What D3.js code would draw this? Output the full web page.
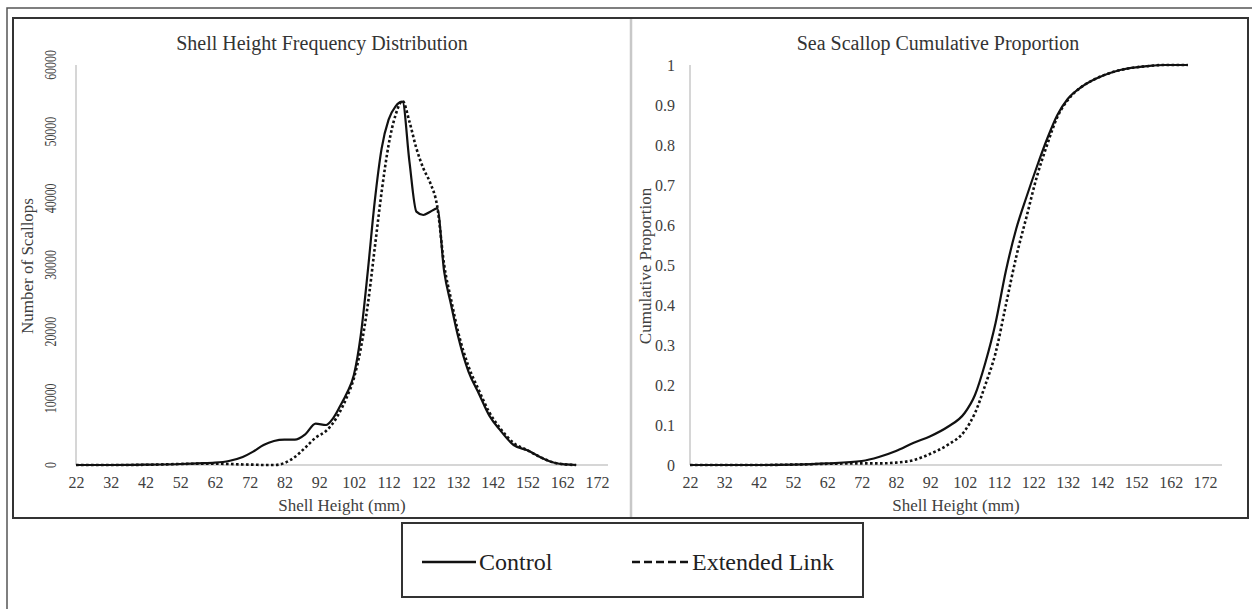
<!DOCTYPE html>
<html>
<head>
<meta charset="utf-8">
<script src="https://cdn.jsdelivr.net/npm/d3@7"></script>
<style>
  body { margin: 0; background: #fff; }
  svg { display: block; }
  svg text { font-family: "Liberation Serif", "Times New Roman", serif; }
</style>
</head>
<body>
<div id="chart"></div>
<script>
'use strict';

let serif = "Liberation Serif, Times New Roman, serif";

// shell height bins (mm) used for the frequency curves
let freqSizes = [22, 32, 42, 52, 57, 62, 66, 70, 73, 76, 79, 82, 85, 88, 91, 94, 96, 98, 100, 102,
    104, 106, 108, 110, 112, 114, 116, 118, 120, 122, 124, 126, 128, 130, 132, 135, 138, 141, 144,
    148, 152, 156, 160, 163, 166];
let freqControl = [0, 0, 50, 150, 250, 350, 600, 1200, 2000, 3000, 3600, 3800, 3800, 4600, 6200, 6000,
    7000, 8800, 10800, 13500, 19500, 29000, 39500, 47500, 51800, 53800, 54500, 45500, 38000, 37500,
    38000, 38500, 29000, 24000, 19300, 14000, 10700, 7400, 5300, 3000, 2200, 1100, 300, 80, 0];
let freqExtended = [0, 0, 30, 150, 200, 200, 150, 80, 50, 0, 0, 300, 1200, 2600, 4100, 5100,
    6300, 8000, 10200, 13000, 17500, 24000, 32500, 41000, 48000, 52500, 54600, 51500, 47500, 44500,
    42300, 38800, 30000, 24800, 20000, 14800, 11200, 7900, 5600, 3300, 2200, 1100, 300, 80, 0];

// cumulative proportion curves
let cumSizes = [22, 32, 42, 52, 62, 72, 77, 82, 87, 92, 97, 102, 105, 108, 111, 114, 117, 120, 123,
    126, 129, 132, 136, 140, 145, 150, 155, 160, 167];
let cumControl = [0, 0, 0, 0.001, 0.004, 0.01, 0.02, 0.035, 0.055, 0.072, 0.095, 0.13, 0.175, 0.255,
    0.355, 0.485, 0.59, 0.67, 0.745, 0.815, 0.875, 0.915, 0.945, 0.965, 0.982, 0.992, 0.997, 1, 1];
let cumExtended = [0, 0, 0, 0.001, 0.003, 0.004, 0.004, 0.006, 0.012, 0.028, 0.05, 0.085, 0.13, 0.2,
    0.28, 0.4, 0.52, 0.62, 0.72, 0.8, 0.87, 0.912, 0.945, 0.965, 0.982, 0.992, 0.997, 1, 1];

let xTicks = d3.range(22, 173, 10);
let freqTicks = d3.range(0, 60001, 10000);
let cumTicks = d3.range(0, 11).map(i => i / 10);

let width = 1252, height = 609;

let svg = d3.select("#chart").append("svg")
    .attr("width", width)
    .attr("height", height);

// frames
svg.append("rect").attr("x", 7).attr("y", 8).attr("width", 1260).attr("height", 620)
    .attr("fill", "none").attr("stroke", "#555").attr("stroke-width", 1.5);
svg.append("rect").attr("x", 13).attr("y", 18).attr("width", 1235).attr("height", 500)
    .attr("fill", "none").attr("stroke", "#333").attr("stroke-width", 2);
svg.append("line").attr("x1", 631).attr("x2", 631).attr("y1", 19).attr("y2", 517)
    .attr("stroke", "#c8c8c8").attr("stroke-width", 2.5);

let drawPanel = function(cfg) {
    let x = d3.scaleLinear().domain([22, 172]).range([cfg.left, cfg.x172]);
    let y = d3.scaleLinear().domain(cfg.yDomain).range([465, 65]);
    let g = svg.append("g");

    // axis lines
    g.append("line").attr("x1", cfg.left).attr("x2", cfg.left).attr("y1", 65).attr("y2", 465)
        .attr("stroke", "#c8c8c8").attr("stroke-width", 1.5);
    g.append("line").attr("x1", cfg.left).attr("x2", cfg.axisEnd).attr("y1", 465).attr("y2", 465)
        .attr("stroke", "#c8c8c8").attr("stroke-width", 1.5);

    let xAxis = d3.axisBottom(x).tickValues(xTicks).tickSize(0).tickPadding(0);
    let xg = g.append("g").attr("transform", "translate(0,477)").call(xAxis);
    xg.select(".domain").remove();
    xg.selectAll("text").attr("font-size", 16).attr("fill", "#404040")
        .attr("font-family", serif).attr("dy", "0.71em");

    if (cfg.rotatedY) {
        g.selectAll("text.ylab").data(cfg.yTicks).enter().append("text")
            .attr("class", "ylab")
            .attr("transform", d => "translate(56," + y(d) + ") rotate(-90) scale(0.95,1.3)")
            .attr("text-anchor", "middle")
            .attr("font-family", serif)
            .attr("font-size", 12.5).attr("fill", "#404040")
            .text(d => d);
    } else {
        g.selectAll("text.ylab").data(cfg.yTicks).enter().append("text")
            .attr("class", "ylab")
            .attr("x", cfg.left - 15).attr("y", d => y(d)).attr("dy", "0.35em")
            .attr("text-anchor", "end")
            .attr("font-family", serif)
            .attr("font-size", 16).attr("fill", "#404040")
            .text(d => d);
    }

    g.append("text").attr("x", cfg.titleX).attr("y", 50).attr("text-anchor", "middle")
        .attr("font-family", serif)
        .attr("font-size", 20).attr("fill", "#333").text(cfg.title);
    g.append("text").attr("x", (cfg.left + cfg.axisEnd) / 2).attr("y", 511).attr("text-anchor", "middle")
        .attr("font-family", serif)
        .attr("font-size", 17).attr("fill", "#404040").text("Shell Height (mm)");
    g.append("text").attr("transform", "translate(" + cfg.yTitleX + ",266) rotate(-90)")
        .attr("text-anchor", "middle")
        .attr("font-family", serif)
        .attr("font-size", 17).attr("fill", "#404040").text(cfg.yTitle);

    let line = d3.line()
        .x(d => x(d[0]))
        .y(d => y(d[1]))
        .curve(d3.curveMonotoneX);

    g.append("path").datum(d3.zip(cfg.sizes, cfg.extended))
        .attr("d", line).attr("fill", "none").attr("stroke", "#111")
        .attr("stroke-width", 2.6).attr("stroke-dasharray", "2.6,2.4");
    g.append("path").datum(d3.zip(cfg.sizes, cfg.control))
        .attr("d", line).attr("fill", "none").attr("stroke", "#111")
        .attr("stroke-width", 2.2);
}

drawPanel({
    left: 76, x172: 597, axisEnd: 608,
    yDomain: [0, 60000], yTicks: freqTicks, rotatedY: true,
    title: "Shell Height Frequency Distribution", titleX: 322,
    yTitle: "Number of Scallops", yTitleX: 33,
    sizes: freqSizes, control: freqControl, extended: freqExtended
});

drawPanel({
    left: 690, x172: 1205, axisEnd: 1222,
    yDomain: [0, 1], yTicks: cumTicks, rotatedY: false,
    title: "Sea Scallop Cumulative Proportion", titleX: 938,
    yTitle: "Cumulative Proportion", yTitleX: 651,
    sizes: cumSizes, control: cumControl, extended: cumExtended
});

// legend
let legend = svg.append("g");
legend.append("rect").attr("x", 402).attr("y", 523).attr("width", 461).attr("height", 74)
    .attr("fill", "#fff").attr("stroke", "#333").attr("stroke-width", 2);
legend.append("line").attr("x1", 422).attr("x2", 476).attr("y1", 562).attr("y2", 562)
    .attr("stroke", "#111").attr("stroke-width", 2.4);
legend.append("text").attr("x", 479).attr("y", 570).attr("font-family", serif)
    .attr("font-size", 24).attr("fill", "#222").text("Control");
legend.append("line").attr("x1", 632).attr("x2", 690).attr("y1", 562).attr("y2", 562)
    .attr("stroke", "#111").attr("stroke-width", 2.4).attr("stroke-dasharray", "8,4");
legend.append("text").attr("x", 692).attr("y", 570).attr("font-family", serif)
    .attr("font-size", 24).attr("fill", "#222").text("Extended Link");
</script>
</body>
</html>
